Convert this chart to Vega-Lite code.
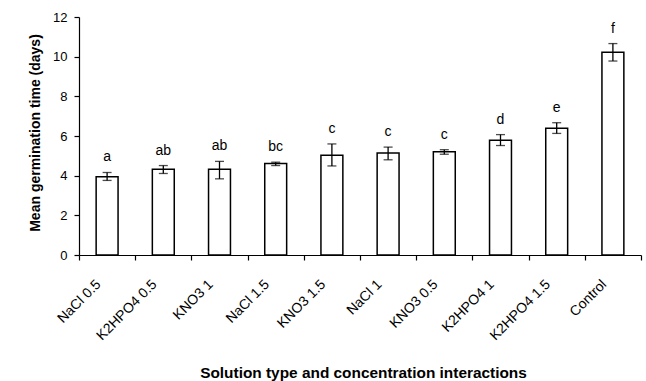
{
  "$schema": "https://vega.github.io/schema/vega-lite/v6.json",
  "width": 562,
  "height": 238,
  "autosize": {"type": "none"},
  "padding": {"left": 79, "top": 17, "right": 5, "bottom": 126},
  "background": "white",
  "config": {
    "view": {"stroke": null},
    "font": "Liberation Sans",
    "axis": {
      "domainColor": "black",
      "tickColor": "black",
      "labelColor": "black",
      "titleColor": "black",
      "labelFont": "Liberation Sans",
      "titleFont": "Liberation Sans",
      "labelFontSize": 13,
      "titleFontWeight": "bold",
      "grid": false,
      "domainWidth": 1.2,
      "tickWidth": 1.2,
      "tickSize": 5
    },
    "axisY": {
      "values": [0, 2, 4, 6, 8, 10, 12],
      "labelOverlap": false,
      "labelPadding": 7,
      "titleFontSize": 14,
      "titleX": -44,
      "titleY": 115.5,
      "titleAnchor": "middle",
      "titleBaseline": "middle",
      "titleAngle": -90
    }
  },
  "data": {
    "values": [
      {"treatment": "NaCl 0.5", "mean": 3.95, "lower": 3.76, "upper": 4.16, "group": "a"},
      {"treatment": "K2HPO4 0.5", "mean": 4.32, "lower": 4.11, "upper": 4.51, "group": "ab"},
      {"treatment": "KNO3 1", "mean": 4.32, "lower": 3.84, "upper": 4.72, "group": "ab"},
      {"treatment": "NaCl 1.5", "mean": 4.61, "lower": 4.51, "upper": 4.68, "group": "bc"},
      {"treatment": "KNO3 1.5", "mean": 5.03, "lower": 4.49, "upper": 5.6, "group": "c"},
      {"treatment": "NaCl 1", "mean": 5.14, "lower": 4.8, "upper": 5.44, "group": "c"},
      {"treatment": "KNO3 0.5", "mean": 5.21, "lower": 5.08, "upper": 5.31, "group": "c"},
      {"treatment": "K2HPO4 1", "mean": 5.78, "lower": 5.52, "upper": 6.07, "group": "d"},
      {"treatment": "K2HPO4 1.5", "mean": 6.39, "lower": 6.13, "upper": 6.67, "group": "e"},
      {"treatment": "Control", "mean": 10.22, "lower": 9.78, "upper": 10.66, "group": "f"}
    ]
  },
  "encoding": {
    "x": {
      "field": "treatment",
      "type": "nominal",
      "sort": null,
      "scale": {"paddingInner": 0, "paddingOuter": 0},
      "axis": {
        "title": "Solution type and concentration interactions",
        "titleFontSize": 15.4,
        "labelFontSize": 14,
        "labelAngle": -45,
        "labelAlign": "right",
        "labelBaseline": "middle",
        "labelPadding": 22,
        "labelOffset": -9,
        "tickBand": "extent",
        "titleX": 284,
        "titleY": 117,
        "titleAnchor": "middle",
        "titleBaseline": "middle"
      }
    }
  },
  "layer": [
    {
      "mark": {"type": "bar", "fill": "white", "stroke": "black", "strokeWidth": 1.5, "width": {"band": 0.39}},
      "encoding": {
        "y": {
          "field": "mean",
          "type": "quantitative",
          "scale": {"domain": [0, 12], "nice": false},
          "title": "Mean germination time (days)"
        }
      }
    },
    {
      "mark": {"type": "rule", "color": "black", "strokeWidth": 1.3},
      "encoding": {
        "y": {"field": "lower", "type": "quantitative", "title": "Mean germination time (days)"},
        "y2": {"field": "upper"}
      }
    },
    {
      "mark": {"type": "tick", "color": "black", "size": 9, "thickness": 1.3, "orient": "horizontal"},
      "encoding": {"y": {"field": "upper", "type": "quantitative", "title": "Mean germination time (days)"}}
    },
    {
      "mark": {"type": "tick", "color": "black", "size": 9, "thickness": 1.3, "orient": "horizontal"},
      "encoding": {"y": {"field": "lower", "type": "quantitative", "title": "Mean germination time (days)"}}
    },
    {
      "mark": {"type": "text", "fontSize": 14, "font": "Liberation Sans", "color": "black", "baseline": "alphabetic", "dy": -11},
      "encoding": {
        "y": {"field": "upper", "type": "quantitative", "title": "Mean germination time (days)"},
        "text": {"field": "group"}
      }
    }
  ]
}
